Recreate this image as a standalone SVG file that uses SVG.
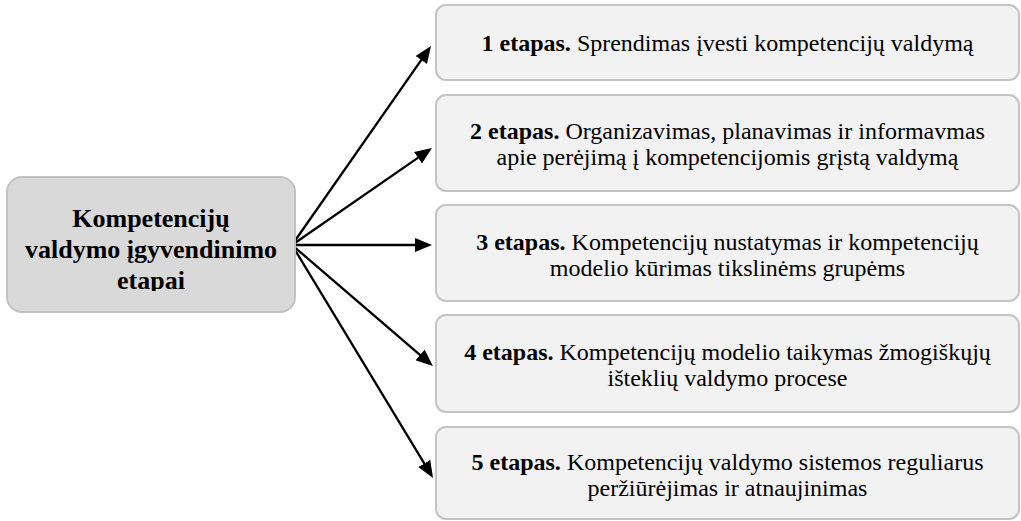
<svg xmlns="http://www.w3.org/2000/svg" width="1021" height="521" viewBox="0 0 1021 521">
<style>
  .main{fill:#d9d9d9;stroke:#c2c2c2;stroke-width:2}
  .step{fill:#f2f2f2;stroke:#c4c4c4;stroke-width:2}
  text{font-family:'Liberation Serif','Times New Roman','DejaVu Serif',serif;fill:#000;text-anchor:middle}
  .mt{font-size:26px;font-weight:bold}
  .st{font-size:24px;font-weight:normal}
  .b{font-weight:bold}
  .conn{stroke:#000;stroke-width:2.3;fill:none;marker-end:url(#arr)}
</style>
<defs>
  <marker id="arr" markerUnits="userSpaceOnUse" markerWidth="17" markerHeight="14" refX="9" refY="7" orient="auto">
    <path d="M0,0 L17,7 L0,14 z" fill="#000"/>
  </marker>
  <clipPath id="mclip"><rect x="7" y="177" width="288" height="114"/></clipPath>
</defs>
<rect width="1021" height="521" fill="#fff"/>
<g id="connectors">
  <path class="conn" d="M292,245 L426.4,52.6"/>
  <path class="conn" d="M292,245 L425.4,152.6"/>
  <path class="conn" d="M292,245 L424,245"/>
  <path class="conn" d="M292,245 L426.9,360.8"/>
  <path class="conn" d="M292,245 L428.9,471.2"/>
</g>
<g id="main">
  <rect class="main" x="7" y="177" width="288" height="135" rx="15"/>
  <g clip-path="url(#mclip)">
    <text class="mt" x="151" y="227">Kompetencijų</text>
    <text class="mt" x="151" y="258">valdymo įgyvendinimo</text>
    <text class="mt" x="151" y="289">etapai</text>
  </g>
</g>
<g id="step1">
  <rect class="step" x="436" y="5" width="583" height="75" rx="10"/>
  <text class="st" x="727.5" y="51"><tspan class="b">1 etapas.</tspan> Sprendimas įvesti kompetencijų valdymą</text>
</g>
<g id="step2">
  <rect class="step" x="436" y="95" width="583" height="96" rx="10"/>
  <text class="st" x="727.5" y="139"><tspan class="b">2 etapas.</tspan> Organizavimas, planavimas ir informavmas</text>
  <text class="st" x="727.5" y="165">apie perėjimą į kompetencijomis grįstą valdymą</text>
</g>
<g id="step3">
  <rect class="step" x="436" y="205" width="583" height="96" rx="10"/>
  <text class="st" x="727.5" y="250"><tspan class="b">3 etapas.</tspan> Kompetencijų nustatymas ir kompetencijų</text>
  <text class="st" x="727.5" y="276">modelio kūrimas tikslinėms grupėms</text>
</g>
<g id="step4">
  <rect class="step" x="436" y="315" width="583" height="97" rx="10"/>
  <text class="st" x="727.5" y="360"><tspan class="b">4 etapas.</tspan> Kompetencijų modelio taikymas žmogiškųjų</text>
  <text class="st" x="727.5" y="386">išteklių valdymo procese</text>
</g>
<g id="step5">
  <rect class="step" x="436" y="427" width="583" height="92" rx="10"/>
  <text class="st" x="727.5" y="470"><tspan class="b">5 etapas.</tspan> Kompetencijų valdymo sistemos reguliarus</text>
  <text class="st" x="727.5" y="496">peržiūrėjimas ir atnaujinimas</text>
</g>
</svg>
